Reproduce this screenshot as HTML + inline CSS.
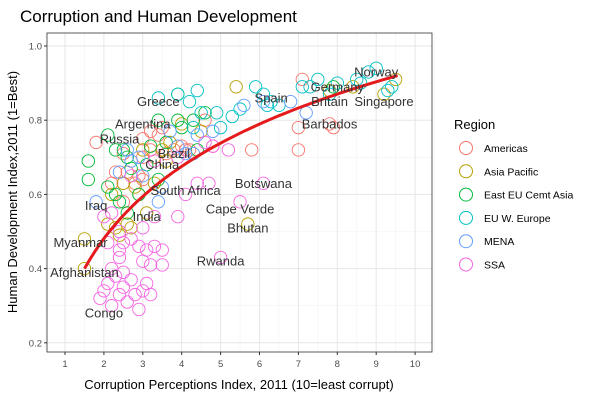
<!DOCTYPE html>
<html><head><meta charset="utf-8"><style>
body{margin:0;background:#fff;font-family:"Liberation Sans",sans-serif}
svg{display:block}
</style></head><body>
<svg id="chart" width="600" height="400" xmlns="http://www.w3.org/2000/svg">
<text x="20" y="22" font-size="17" fill="#000">Corruption and Human Development</text>
<rect x="47" y="33" width="385" height="319" fill="#fff"/>
<g id="grid"></g>
<g id="points"></g>
<g id="trend"></g>
<g id="labels"></g>
<rect x="47" y="33" width="385" height="319" fill="none" stroke="#333" stroke-width="0.8"/>
<g id="axes"></g>
<text x="239" y="389" font-size="13" text-anchor="middle" fill="#000">Corruption Perceptions Index, 2011 (10=least corrupt)</text>
<text transform="translate(17,192) rotate(-90)" font-size="13" text-anchor="middle" fill="#000">Human Development Index,2011 (1=Best)</text>
<g id="legend"></g>
</svg>
<script>
const regions=["Americas","Asia Pacific","East EU Cemt Asia","EU W. Europe","MENA","SSA"];
const colors=["#F8766D","#B79F00","#00BA38","#00BFC4","#619CFF","#F564E3"];
const xTicks=[1,2,3,4,5,6,7,8,9,10];
const yTicks=[0.2,0.4,0.6,0.8,1.0];
const americas=[[3.0,0.75],[3.2,0.77],[3.5,0.78],[3.0,0.70],[2.6,0.66],[2.3,0.66],[1.8,0.74],[2.5,0.71],[3.2,0.72],[3.6,0.71],[3.3,0.70],[2.9,0.65],[2.5,0.58],[2.2,0.63],[4.0,0.73],[4.1,0.72],[4.8,0.73],[5.8,0.72],[7.0,0.72],[7.0,0.78],[7.8,0.79],[7.1,0.91],[7.9,0.78],[4.6,0.80],[4.2,0.72],[3.4,0.76],[3.8,0.72],[2.8,0.63],[2.5,0.63],[3.0,0.64]];
const asiaPacific=[[1.5,0.40],[1.5,0.48],[3.1,0.55],[3.6,0.69],[9.2,0.87],[5.7,0.52],[2.3,0.51],[2.4,0.49],[2.6,0.52],[2.7,0.51],[2.1,0.52],[2.9,0.60],[2.5,0.63],[3.0,0.72],[3.5,0.72],[3.7,0.74],[4.0,0.79],[5.4,0.89],[7.8,0.88],[8.4,0.89],[9.5,0.91],[2.8,0.62],[3.3,0.63],[2.2,0.60],[4.5,0.77]];
const eastEU=[[1.6,0.64],[1.6,0.69],[2.1,0.62],[2.3,0.60],[2.4,0.58],[2.1,0.76],[2.5,0.72],[2.3,0.72],[2.6,0.70],[2.7,0.67],[3.2,0.73],[3.4,0.80],[3.9,0.80],[4.0,0.78],[4.3,0.80],[4.6,0.82],[3.9,0.87],[3.1,0.68],[3.6,0.74],[2.6,0.55],[2.9,0.60],[4.4,0.72],[7.9,0.89],[3.4,0.64]];
const euWEurope=[[3.4,0.86],[3.9,0.87],[4.4,0.88],[4.5,0.82],[4.2,0.85],[4.9,0.82],[5.3,0.81],[5.5,0.83],[5.9,0.89],[6.1,0.87],[6.3,0.85],[6.5,0.84],[7.1,0.89],[7.3,0.89],[7.5,0.91],[8.0,0.90],[8.5,0.91],[8.8,0.93],[9.0,0.94],[9.4,0.89],[9.3,0.88],[7.8,0.87],[8.6,0.90],[6.2,0.84],[5.0,0.78],[4.3,0.78]];
const mena=[[1.8,0.58],[2.4,0.66],[2.6,0.72],[2.7,0.69],[3.0,0.65],[3.4,0.58],[3.5,0.62],[3.9,0.73],[4.3,0.71],[4.4,0.76],[4.8,0.77],[5.6,0.84],[6.1,0.85],[6.8,0.85],[7.2,0.82],[2.9,0.70],[3.7,0.77],[4.1,0.71]];
const ssa=[[1.9,0.32],[2.0,0.34],[2.1,0.36],[2.2,0.30],[2.4,0.33],[2.5,0.35],[2.6,0.31],[2.7,0.37],[2.8,0.33],[3.0,0.34],[3.2,0.33],[2.3,0.38],[2.5,0.39],[2.9,0.29],[2.2,0.40],[2.4,0.43],[2.4,0.45],[2.5,0.47],[2.4,0.50],[2.7,0.48],[2.9,0.46],[3.0,0.42],[3.1,0.45],[3.2,0.41],[3.0,0.51],[3.3,0.46],[3.5,0.45],[3.5,0.41],[3.1,0.36],[2.0,0.54],[2.1,0.47],[3.3,0.54],[3.9,0.54],[2.2,0.55],[5.0,0.43],[4.1,0.60],[4.4,0.63],[4.7,0.63],[5.5,0.58],[6.1,0.63],[4.8,0.73],[3.9,0.70],[4.6,0.74],[5.2,0.72],[2.7,0.65],[3.3,0.69]];
const series=[americas,asiaPacific,eastEU,euWEurope,mena,ssa];
const labelNames=["Norway","Germany","Britain","Singapore","Spain","Barbados","Greece","Argentina","Russia","Brazil","China","South Africa","Botswana","Cape Verde","Bhutan","Iraq","India","Myanmar","Afghanistan","Rwanda","Congo"];
const labelX=[9.0,8.0,7.8,9.2,6.3,7.8,3.4,3.0,2.4,3.8,3.5,4.1,6.1,5.5,5.7,1.8,3.1,1.4,1.5,5.0,2.0];
const labelY=[0.93,0.89,0.85,0.85,0.86,0.79,0.85,0.79,0.75,0.71,0.68,0.61,0.63,0.56,0.51,0.57,0.54,0.47,0.39,0.42,0.28];
const trendCoef=[0.286,0.281];
const trendRange=[1.5,9.55];

const NS="http://www.w3.org/2000/svg";
const X=v=>65+(v-1)*38.9;
const Y=v=>46+(1-v)*371;
function mk(tag,attrs,parent){const e=document.createElementNS(NS,tag);for(const k in attrs)e.setAttribute(k,attrs[k]);parent.appendChild(e);return e;}
const grid=document.getElementById('grid');
for(let v=0.5;v<=10.5;v+=1){const l=mk('line',{x1:X(v),x2:X(v),y1:33,y2:352,stroke:'#f2f2f2','stroke-width':0.6},grid);}
for(let v=0.3;v<=0.95;v+=0.2){const l=mk('line',{x1:47,x2:432,y1:Y(v),y2:Y(v),stroke:'#f2f2f2','stroke-width':0.6},grid);}
const axes=document.getElementById('axes');
xTicks.forEach(t=>{const l=mk('line',{x1:X(t),x2:X(t),y1:33,y2:352,stroke:'#e6e6e6','stroke-width':1},grid);
 const k=mk('line',{x1:X(t),x2:X(t),y1:352,y2:355,stroke:'#333'},axes);
 const tx=mk('text',{x:X(t),y:367,'font-size':9.5,'text-anchor':'middle',fill:'#4d4d4d'},axes);tx.textContent=t;});
yTicks.forEach(t=>{const l=mk('line',{x1:47,x2:432,y1:Y(t),y2:Y(t),stroke:'#e6e6e6','stroke-width':1},grid);
 const k=mk('line',{x1:44,x2:47,y1:Y(t),y2:Y(t),stroke:'#333'},axes);
 const tx=mk('text',{x:42,y:Y(t)+3.5,'font-size':9.5,'text-anchor':'end',fill:'#4d4d4d'},axes);tx.textContent=t.toFixed(1);});
const pts=document.getElementById('points');
series.forEach((s,i)=>s.forEach(p=>{const c=mk('circle',{cx:X(p[0]),cy:Y(p[1]),r:6.2,fill:'none',stroke:colors[i],'stroke-width':0.9},pts);}));
let d='';for(let i=0;i<=60;i++){const x=trendRange[0]+(trendRange[1]-trendRange[0])*i/60;d+=(i?'L':'M')+X(x).toFixed(1)+','+Y(trendCoef[0]+trendCoef[1]*Math.log(x)).toFixed(1);}
const tl=mk('path',{d:d,fill:'none',stroke:'#e41a1c','stroke-width':3},document.getElementById('trend'));
const lg=document.getElementById('labels');
labelNames.forEach((n,i)=>{const t=mk('text',{x:X(labelX[i]),y:Y(labelY[i])+4.5,'font-size':13,'text-anchor':'middle',fill:'#333'},lg);t.textContent=n;});
const leg=document.getElementById('legend');
const lt=mk('text',{x:454,y:129,'font-size':13,fill:'#000'},leg);lt.textContent='Region';
regions.forEach((r,i)=>{const y=148+i*23.3;const c=mk('circle',{cx:466,cy:y,r:6.5,fill:'none',stroke:colors[i]},leg);
 const t=mk('text',{x:484,y:y+4,'font-size':10.5,fill:'#000'},leg);t.textContent=r;});
</script>
</body></html>
